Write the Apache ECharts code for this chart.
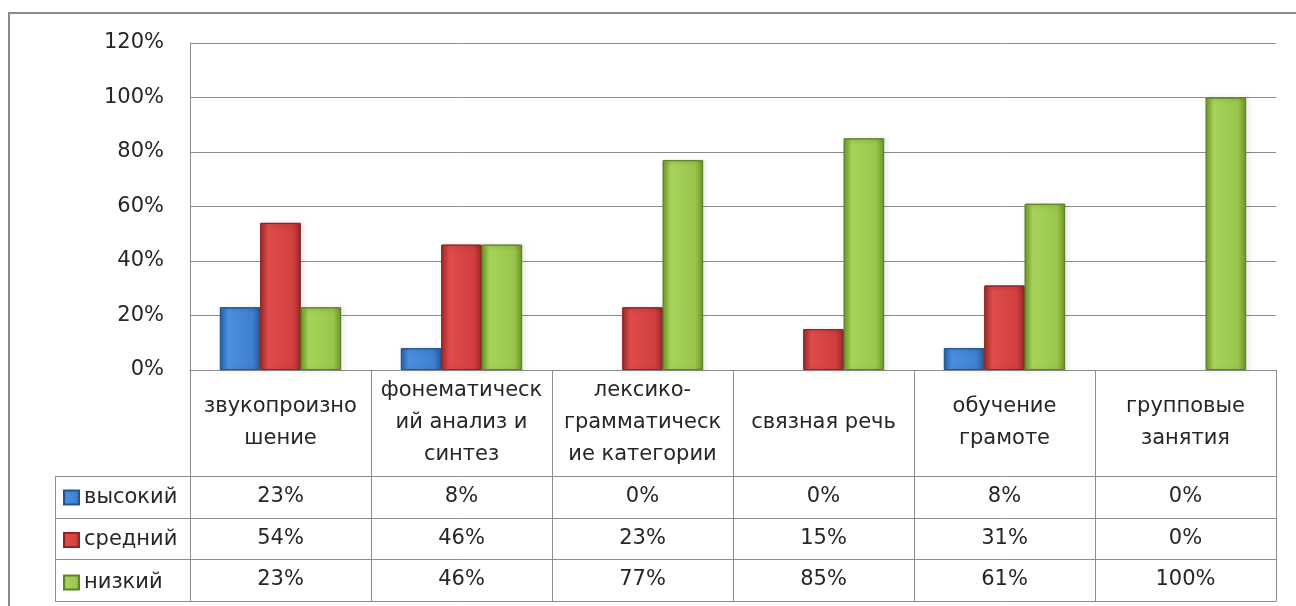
<!DOCTYPE html>
<html>
<head>
<meta charset="utf-8">
<script src="https://cdn.jsdelivr.net/npm/echarts@6/dist/echarts.min.js"></script>
<style>
  html, body { margin: 0; padding: 0; background: #fff; }
  #chart { width: 1296px; height: 606px; }
</style>
</head>
<body>
<div id="chart"></div>
<script>
const categories = [
  'звукопроизно\nшение',
  'фонематическ\nий анализ и\nсинтез',
  'лексико-\nграмматическ\nие категории',
  'связная речь',
  'обучение\nграмоте',
  'групповые\nзанятия'
]
const seriesNames = ['высокий', 'средний', 'низкий']
const high = [23, 8, 0, 0, 8, 0]
const mid = [54, 46, 23, 15, 31, 0]
const low = [23, 46, 77, 85, 61, 100]
const yTicks = [0, 20, 40, 60, 80, 100, 120]

// layout
const W = 1296, H = 606
const G_LEFT = 190, G_RIGHT = 20, G_TOP = 43, G_BOTTOM = 236
const HEADER_H = 106
const ROW_H = [42, 41, 42]
const LEG_LEFT = 55
const FONT = 'DejaVu Sans'
const FS = 21
const TXT = '#262626'
const LINE = '#8c8c8c'

const colors = [
  ['#2a64ab', '#4b8fe0', '#3f80d0', '#2a5f9f'],
  ['#a92e2e', '#e04b4b', '#d23f3f', '#9c2a2a'],
  ['#74a030', '#a8d35a', '#9bc64c', '#6c9629']
]
const borders = ['#24558f', '#8d2626', '#5f8426']

function grad(c) {
  return {
    type: 'linear', x: 0, y: 0, x2: 1, y2: 0,
    colorStops: [
      { offset: 0, color: c[0] },
      { offset: 0.2, color: c[1] },
      { offset: 0.8, color: c[2] },
      { offset: 1, color: c[3] }
    ]
  }
}

const rows = [high, mid, low]
const rowOffsets = []
let acc = HEADER_H
ROW_H.forEach((h) => { rowOffsets.push(acc); acc += h })
const tableBottomOffset = acc

function bar(i, data) {
  return {
    name: seriesNames[i],
    type: 'bar',
    xAxisIndex: 0,
    barGap: '0%',
    barCategoryGap: '33%',
    itemStyle: {
      color: grad(colors[i]),
      borderColor: borders[i],
      borderWidth: 1,
      shadowColor: 'rgba(0,0,0,0.25)',
      shadowBlur: 4,
      shadowOffsetX: 2,
      shadowOffsetY: 1
    },
    // zero values draw nothing, as in the original
    data: data.map((v) => v === 0
      ? { value: v, itemStyle: { borderWidth: 0, shadowBlur: 0, shadowOffsetX: 0, shadowOffsetY: 0, opacity: 0 } }
      : v)
  }
}

function valueAxis(offset, rowIdx) {
  return {
    type: 'category',
    data: categories,
    position: 'bottom',
    offset,
    axisLine: { show: true, lineStyle: { color: LINE, width: 1 } },
    axisTick: { show: false },
    axisLabel: {
      show: rowIdx != null,
      interval: 0,
      margin: rowIdx != null ? ROW_H[rowIdx] / 2 : 0,
      verticalAlign: 'middle',
      fontFamily: FONT, fontSize: FS, color: TXT,
      formatter: (v, idx) => rowIdx != null ? rows[rowIdx][idx] + '%' : ''
    }
  }
}

const chart = echarts.init(document.getElementById('chart'), null, { renderer: 'canvas' })

const legendTop = H - G_BOTTOM + HEADER_H + 11

chart.setOption({
  backgroundColor: '#fff',
  animation: false,
  grid: { left: G_LEFT, right: G_RIGHT, top: G_TOP, bottom: G_BOTTOM },
  legend: {
    orient: 'vertical',
    left: LEG_LEFT + 8,
    top: legendTop,
    padding: 0,
    itemWidth: 15,
    itemHeight: 14,
    itemGap: 21.5,
    itemTextGap: 8,
    icon: 'rect',
    selectedMode: false,
    textStyle: { fontFamily: FONT, fontSize: FS, color: TXT, lineHeight: 20 },
    data: seriesNames
  },
  xAxis: [
    {
      type: 'category',
      data: categories,
      position: 'bottom',
      axisLine: { show: true, lineStyle: { color: LINE } },
      axisTick: { show: true, length: tableBottomOffset, lineStyle: { color: LINE } },
      axisLabel: {
        interval: 0,
        margin: HEADER_H / 2,
        verticalAlign: 'middle',
        fontFamily: FONT, fontSize: FS, color: TXT, lineHeight: 32
      }
    },
    valueAxis(rowOffsets[0], 0),
    valueAxis(rowOffsets[1], 1),
    valueAxis(rowOffsets[2], 2),
    valueAxis(tableBottomOffset, null)
  ],
  yAxis: {
    type: 'value',
    min: yTicks[0],
    max: yTicks[yTicks.length - 1],
    interval: 20,
    axisLine: { show: true, lineStyle: { color: LINE } },
    axisTick: { show: false },
    splitLine: { lineStyle: { color: LINE } },
    axisLabel: {
      margin: 26,
      fontFamily: FONT, fontSize: FS, color: TXT,
      formatter: '{value}%'
    }
  },
  series: [bar(0, high), bar(1, mid), bar(2, low)]
})

// legend column of the data table + outer frame
const y0 = H - G_BOTTOM
const tableLines = []
rowOffsets.concat([tableBottomOffset]).forEach((o) => {
  tableLines.push({
    type: 'line',
    shape: { x1: LEG_LEFT, y1: y0 + o + 0.5, x2: G_LEFT, y2: y0 + o + 0.5 },
    style: { stroke: LINE, lineWidth: 1 }
  })
})
tableLines.push({
  type: 'line',
  shape: { x1: LEG_LEFT + 0.5, y1: y0 + rowOffsets[0], x2: LEG_LEFT + 0.5, y2: y0 + tableBottomOffset },
  style: { stroke: LINE, lineWidth: 1 }
})
chart.setOption({
  graphic: tableLines.concat([{
    type: 'rect',
    shape: { x: 9, y: 13, width: W, height: H },
    style: { fill: null, stroke: '#8a8a8a', lineWidth: 2 },
    silent: true
  }])
})
</script>
</body>
</html>
